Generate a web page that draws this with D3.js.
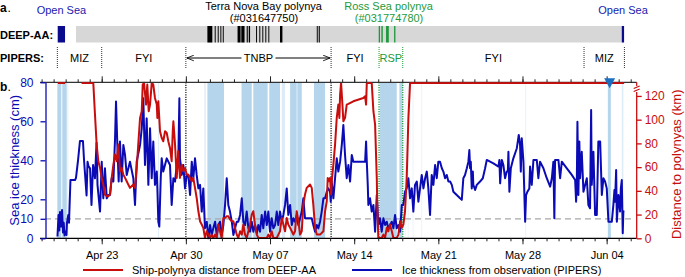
<!DOCTYPE html>
<html lang="en">
<head>
<meta charset="utf-8">
<title>PIPERS ice thickness vs polynya distance</title>
<script src="https://cdn.jsdelivr.net/npm/d3@7"></script>
<style>
body { margin: 0; background: #fff; }
svg { font-family: "Liberation Sans", Arial, Helvetica, sans-serif; }
</style>
</head>
<body>
<script>
// all times are days after 2017-04-18 00:00 UTC

// ice thickness observed from the ship (PIPERS), cm
var iceDay = [1.32,1.41,1.47,1.53,1.61,1.70,1.78,1.84,1.91,1.97,2.07,2.11,2.22,2.28,2.40,2.53,2.78,2.86,3.03,3.19,3.28,3.44,3.53,3.74,3.82,3.90,4.03,4.15,4.28,4.44,4.57,4.65,4.86,5.00,5.13,5.27,5.42,5.55,5.69,5.83,5.97,6.11,6.19,6.30,6.41,6.52,6.66,6.80,6.94,7.08,7.35,7.63,7.77,7.91,8.19,8.33,8.46,8.60,8.74,8.88,9.02,9.16,9.29,9.43,9.58,9.63,9.71,9.79,9.91,9.99,10.12,10.41,10.68,10.82,10.96,11.10,11.24,11.37,11.46,11.51,11.66,11.79,11.93,12.07,12.20,12.35,12.49,12.62,12.76,12.90,13.04,13.18,13.32,13.45,13.59,13.74,13.87,14.01,14.15,14.28,14.43,14.57,14.70,14.84,14.98,15.12,15.26,15.40,15.53,15.67,15.82,15.95,16.09,16.23,16.36,
  16.51,16.65,16.78,16.92,17.06,17.20,17.34,17.48,17.61,17.75,17.90,18.03,18.17,18.31,18.44,18.59,18.73,18.86,19.00,19.14,19.28,19.42,19.56,19.69,19.83,19.98,20.11,20.25,20.39,20.52,20.67,20.81,20.94,21.08,21.22,21.36,21.50,21.64,21.77,21.91,22.05,22.33,22.47,22.60,22.75,22.89,23.02,23.16,23.30,23.44,23.58,23.72,23.85,23.99,24.05,24.13,24.27,24.41,24.55,24.68,24.83,24.97,25.10,25.24,25.38,25.52,25.66,25.80,25.93,26.07,26.91,26.99,27.05,27.13,27.18,27.32,27.46,27.60,27.74,27.88,28.01,28.15,28.29,28.43,28.57,28.71,28.84,28.98,29.13,29.26,29.40,29.54,29.68,29.82,29.96,30.09,30.23,30.37,30.51,30.65,30.79,30.92,31.06,31.21,31.34,31.48,31.62,31.76,31.90,32.04,32.17,32.31,32.45,32.59,32.73,32.87,33.00,
  33.14,33.29,33.42,33.56,33.70,33.84,33.98,34.12,34.25,34.53,34.81,34.95,35.08,35.22,35.37,35.50,35.58,35.64,35.70,35.78,35.87,35.91,36.06,36.20,36.47,36.70,36.89,37.03,37.58,38.00,38.08,38.14,38.28,38.41,38.55,38.69,38.78,38.83,38.91,39.03,39.24,39.53,39.69,39.80,39.86,39.94,40.08,40.22,40.30,40.41,40.57,40.63,40.77,40.91,41.19,41.32,41.46,41.74,42.02,42.30,42.44,42.57,42.65,42.71,42.99,43.13,43.27,43.69,44.10,44.38,44.46,44.52,44.57,44.65,44.73,44.79,44.93,45.07,45.35,45.48,45.62,45.71,45.76,45.90,46.04,46.18,46.31,46.46,46.60,46.73,46.87,47.01,47.15,47.29,47.43,47.56,47.65,47.70,47.79,47.85,47.98,48.12,48.18,48.26,48.34,48.39,48.48];
var iceCm = [0.9,12,4,13.5,6,14.5,3,8,1.5,3.5,1.7,8,12,8,29.9,29.9,29.9,31,40,49.9,49.9,49.9,40,22,39.3,37,35.9,17.1,37.6,30.8,49,27.4,13.7,39.3,20.5,35.9,20.5,22.2,22.2,30.8,29.1,51.3,70.1,47.9,29.1,49.6,29.1,47.9,42.7,32.5,39.3,30.8,17.1,39.3,47.9,56.4,71.8,37.6,61.5,27.4,56.4,30.8,49.6,27.4,34.2,25.6,8.5,6.0,30.8,41.0,34.2,41.0,37.6,17.1,30.8,29.1,37.6,39.3,71.8,41.0,32.5,37.6,25.6,32.5,32.5,22.2,39.3,30.8,41.0,32.5,25.6,27.4,13.7,25.6,5.1,8.5,0,6.8,1.7,5.1,8.5,1.7,6.8,8.5,1.7,6.8,17.1,30.8,17.1,13.7,8.5,1.7,5.1,8.5,8.5,
  12.0,20.5,8.5,6.8,13.7,5.1,3.4,8.5,3.4,6.8,2.6,6.8,3.4,12.0,5.1,13.7,6.8,13.7,3.4,10.3,5.1,6.8,13.7,6.8,13.7,8.5,12.0,17.1,25.6,12.0,17.1,6.8,10.3,8.5,12.0,6.8,10.3,13.7,20.5,10.3,10.3,10.3,10.3,6.8,3.4,6.8,5.1,8.5,13.7,20.5,20.5,23.9,25.6,23.9,18.8,29.1,20.5,30.8,41.0,34.2,39.3,47.9,58.1,42.7,30.8,37.6,29.1,42.7,39.3,39.3,39.3,49.6,39.3,27.4,17.1,20.5,13.7,17.1,3.4,22.2,6.8,10.3,3.4,10.3,6.8,8.5,5.1,6.8,8.5,5.1,12.0,5.1,6.8,3.4,17.1,17.1,23.9,25.6,30.8,20.5,25.6,13.7,27.4,29.1,18.8,25.6,32.5,25.6,30.8,34.2,25.6,12.0,32.5,27.4,37.6,30.8,39.3,
  39.3,35.9,34.2,30.8,32.5,29.1,29.1,27.4,23.9,22.2,20.5,19.7,30.8,32.5,35.9,39.3,45.3,35.9,39.3,25.6,34.2,27.4,24.8,27.4,29.1,30.8,35.9,40.2,38.4,36.8,40.2,28.2,40.2,37.6,30.8,34.2,34.2,44.4,23.9,35.9,41.0,46.2,53.0,47.9,34.2,51.3,39.3,8.5,22.2,23.9,25.6,36.8,27.4,40.2,40.2,30.8,39.3,35.9,30.8,26.5,30.8,39.3,10.3,40.2,40.2,30.8,39.3,35.9,32.5,29.9,18.8,29.1,59.8,22.2,49.6,30.8,44.4,23.9,30.8,17.1,15.4,65.8,27.4,44.4,12.0,12.0,49.6,49.6,22.2,30.8,29.1,25.6,8.5,8.5,8.5,17.1,24.8,18.8,35.0,8.5,22.2,13.7,25.6,29.9,2.6,13.7,13.7];

// ship to polynya distance from DEEP-AA, km (131 = off the top of the scale, null = no data)
var distDay = [1.36,1.95,2.5,3.34,4.30,4.44,4.58,4.72,4.86,5.00,5.13,5.27,5.42,5.55,5.69,5.83,5.97,6.11,6.25,6.38,6.52,6.66,6.80,6.94,7.08,7.21,7.35,7.63,7.77,7.91,8.04,8.19,8.33,8.41,8.52,8.69,8.79,8.91,9.02,9.16,9.29,9.43,9.58,9.63,9.71,9.85,9.99,10.12,10.27,10.41,10.54,10.68,10.82,10.91,10.96,11.10,11.24,11.37,11.51,11.66,11.79,11.93,12.07,12.20,12.35,12.49,12.62,12.76,12.90,13.04,13.18,13.32,13.45,13.59,13.74,13.87,14.01,14.15,14.28,14.43,14.57,14.70,14.84,14.98,15.12,15.26,15.40,15.53,15.67,15.82,15.95,16.09,16.23,16.36,
  16.51,16.65,16.78,16.92,17.06,17.20,17.34,17.48,17.61,17.75,17.90,18.03,18.73,18.86,19.00,19.14,19.28,19.56,19.69,19.83,19.98,20.11,20.25,20.39,20.52,20.67,20.81,20.94,21.08,21.22,21.36,21.50,21.64,21.77,21.91,22.05,22.19,22.33,22.47,22.60,22.75,22.89,23.16,23.44,23.58,23.72,23.80,23.88,23.99,24.08,24.16,24.27,24.41,24.55,24.68,24.77,24.83,24.91,24.99,25.10,25.24,25.38,25.52,25.93,26.76,26.91,26.99,27.05,27.46,27.60,27.74,27.88,27.93,28.01,28.29,28.43,28.57,28.71,28.84,28.98,29.13,29.26,29.54,29.68,29.82,29.96,30.09,30.23,30.37,30.51,30.65,48.45];
var distKm = [131,131,null,131,131,104.3,79.0,64.9,59.3,50.9,45.3,36.9,35.5,35.5,36.9,50.9,62.1,70.6,64.9,79.0,56.5,59.3,53.7,50.9,48.1,45.3,42.5,45.3,42.5,59.3,79.0,101.5,107.1,129.6,131,112.7,129.6,107.1,112.7,131,129.6,118.3,112.7,101.5,115.5,90.2,84.6,81.8,90.2,88.8,81.8,76.2,65.0,90.2,98.7,79.0,50.9,73.4,50.9,62.1,56.5,59.3,53.7,53.7,50.9,48.1,50.9,42.5,34.0,22.8,14.4,11.6,8.8,0.3,5.9,3.1,0.3,3.1,0.3,3.1,0.3,11.6,5.9,0.3,17.2,17.2,18.6,18.6,16.0,14.4,14.4,8.8,3.1,0.3,
  5.9,3.1,11.6,3.1,0.3,5.9,11.6,20.0,22.8,11.6,3.1,0.3,0.3,3.1,0.3,5.9,0.3,0.3,3.1,5.9,17.2,11.6,5.9,17.2,11.6,8.8,5.9,3.1,5.9,22.8,14.4,3.1,5.9,28.4,36.9,42.5,43.9,45.3,42.5,28.4,8.8,3.1,3.1,5.9,22.8,31.2,50.9,48.1,50.9,36.9,50.9,62.1,79.0,101.5,112.7,101.5,121.2,131,118.3,98.7,101.5,112.7,113.3,115.5,118.3,119.7,112.7,131,131,107.1,95.9,50.9,22.8,0.3,0.3,3.1,0.3,8.8,5.9,11.6,5.9,0.3,0.3,3.1,14.4,8.8,11.6,22.8,50.9,101.5,131,131];

// light blue bands: polynya seen by DEEP-AA near the ship
var bandDays = [[1.31,1.64],[1.72,2.09],[13.79,15.17],[16.63,17.48],[17.61,18.80],[18.94,19.83],[20.67,21.22],[21.27,21.64],[22.66,23.58],[28.15,29.54],[29.76,30.01],[47.10,47.35]];
var faintDays = [[2.15,2.22],[9.68,9.75],[13.54,13.65],[19.98,20.25],[30.21,30.26],[30.46,30.51],[30.87,30.92],[31.60,31.65],[40.25,40.30],[48.26,48.39]];
var markerDay = 47.25;

// DEEP-AA strip (panel a)
var openSeaDays = [[1.34,1.95],[48.26,48.45]];
var deepGrayDays = [2.86,48.30];
var tnbDays = [[13.79,14.20],[14.40,14.48],[14.65,14.73],[14.87,14.95],[15.07,15.15],[16.30,16.55],[16.61,16.88],[17.06,17.15],[17.23,17.34],[17.84,17.92],[18.11,18.19],[18.36,18.44],[18.61,18.69],[18.86,18.94],[19.83,20.03],[22.89,22.97],[23.05,23.14]];
var rspDays = [[28.04,28.15],[28.26,28.38],[28.65,28.88],[29.32,29.43]];

// PIPERS ice regimes (panel a)
var pipersBounds = [1.31,5.0,12.0,24.08,28.07,30.04,45.12,48.48];
var pipersLabels = ["MIZ","FYI","TNBP","FYI","RSP","FYI","MIZ"];

var iceTicks = [0,10,20,40,60,80];
var distTicks = [0,20,40,60,80,100,120];

var blue = "#0b0bb5", red = "#c80d0d", green = "#1e9a3c", bandCol = "#b5d5ec", faintCol = "#dcebf7";
var W = 685, H = 277;
var pTop = 82.3, pBot = 238.3, pLeft = 41.6, pRight = 636.7;

var t0 = Date.UTC(2017, 3, 18);
function day(d) { return new Date(t0 + d * 864e5); }

var x = d3.scaleUtc().domain([day(0), day(49.5)]).range([pLeft, pRight]);
var yIce = d3.scaleLinear().domain([0, 80]).range([pBot, pTop]);
var yDist = d3.scaleLinear().domain([0, 131.5]).range([pBot, pTop]).clamp(true);

var svg = d3.select("body").append("svg").attr("width", W).attr("height", H);

function spans(sel, cls, data, y, h, fill) {
  sel.selectAll("rect." + cls).data(data).enter().append("rect").attr("class", cls)
    .attr("x", function(d){ return x(day(d[0])); }).attr("y", y)
    .attr("width", function(d){ return x(day(d[1])) - x(day(d[0])); }).attr("height", h).attr("fill", fill);
}

// ---------- panel a ----------
svg.append("text").attr("x", 0).attr("y", 12).attr("font-size", 12).attr("font-weight", "bold").text("a");
svg.append("text").attr("x", 7.5).attr("y", 12).attr("font-size", 12).text(".");

svg.append("text").attr("x", x(day(1.65))).attr("y", 14).attr("text-anchor", "middle")
  .attr("font-size", 11).attr("fill", "#1a1ab0").text("Open Sea");
svg.append("text").attr("x", x(day(48.36))).attr("y", 14).attr("text-anchor", "middle")
  .attr("font-size", 11).attr("fill", "#1a1ab0").text("Open Sea");
svg.append("text").attr("x", x(day(18.46))).attr("y", 9.5).attr("text-anchor", "middle")
  .attr("font-size", 11).text("Terra Nova Bay polynya");
svg.append("text").attr("x", x(day(18.5))).attr("y", 22).attr("text-anchor", "middle")
  .attr("font-size", 11).text("(#031647750)");
svg.append("text").attr("x", x(day(28.86))).attr("y", 9.5).attr("text-anchor", "middle")
  .attr("font-size", 11).attr("fill", green).text("Ross Sea polynya");
svg.append("text").attr("x", x(day(28.9))).attr("y", 22).attr("text-anchor", "middle")
  .attr("font-size", 11).attr("fill", green).text("(#031774780)");

svg.append("text").attr("x", 0).attr("y", 38.5).attr("font-size", 11).attr("font-weight", "bold").text("DEEP-AA:");
svg.append("text").attr("x", 0).attr("y", 62).attr("font-size", 11).attr("font-weight", "bold").text("PIPERS:");

var stripY = 26, stripH = 16.5;
spans(svg, "gray", [deepGrayDays], stripY, stripH, "#d7d7d7");
spans(svg, "os", openSeaDays, stripY, stripH, "#0a0a8c");
spans(svg, "tnb", tnbDays, stripY, stripH, "#000");
spans(svg, "rsp", rspDays, stripY, stripH, green);

// regime boundaries
pipersBounds.forEach(function(b, i){
  var g = (i == 4 || i == 5);
  svg.append("line").attr("x1", x(day(b))).attr("x2", x(day(b))).attr("y1", 47).attr("y2", 68)
    .attr("stroke", g ? green : "#333").attr("stroke-width", 1).attr("stroke-dasharray", "1,1");
});

// TNBP arrow
svg.append("defs").append("marker").attr("id", "ah").attr("viewBox", "0 0 10 10")
  .attr("refX", 10).attr("refY", 5).attr("markerWidth", 9).attr("markerHeight", 7)
  .attr("orient", "auto-start-reverse")
  .append("path").attr("d", "M0,1 L10,5 L0,9").attr("fill", "none").attr("stroke", "#000").attr("stroke-width", 1.2);
var ax1 = x(day(pipersBounds[2])) + 1, ax2 = x(day(pipersBounds[3])) - 1;
svg.append("line").attr("x1", ax1).attr("x2", ax2).attr("y1", 58).attr("y2", 58)
  .attr("stroke", "#000").attr("stroke-width", 1)
  .attr("marker-start", "url(#ah)").attr("marker-end", "url(#ah)");

pipersLabels.forEach(function(l, i){
  var mid = x(day((pipersBounds[i] + pipersBounds[i+1]) / 2));
  if (l == "TNBP")
    svg.append("rect").attr("x", mid - 17).attr("y", 52).attr("width", 34).attr("height", 12).attr("fill", "#fff");
  svg.append("text").attr("x", mid).attr("y", 62).attr("text-anchor", "middle")
    .attr("font-size", 11).attr("fill", l == "RSP" ? green : "#000")
    .text(l);
});

// ---------- panel b ----------
svg.append("text").attr("x", 0).attr("y", 91).attr("font-size", 12).attr("font-weight", "bold").text("b");
svg.append("text").attr("x", 7.5).attr("y", 91).attr("font-size", 12).text(".");

var plot = svg.append("g");
spans(plot, "faint", faintDays, pTop, pBot - pTop, faintCol);
spans(plot, "band", bandDays, pTop, pBot - pTop, bandCol);

plot.append("line").attr("x1", 45).attr("x2", pRight - 4).attr("y1", yIce(10)).attr("y2", yIce(10))
  .attr("stroke", "#a8a8a8").attr("stroke-width", 1.3).attr("stroke-dasharray", "6,4");

[[12.0, "#222"], [24.08, "#222"], [28.07, green], [30.04, green]].forEach(function(v){
  plot.append("line").attr("x1", x(day(v[0]))).attr("x2", x(day(v[0]))).attr("y1", pTop).attr("y2", pBot)
    .attr("stroke", v[1]).attr("stroke-width", 1.3).attr("stroke-dasharray", "1.2,1.2");
});

var ice = iceDay.map(function(d, i){ return [d, iceCm[i]]; });
var dist = distDay.map(function(d, i){ return [d, distKm[i]]; });

plot.append("path").datum(ice)
  .attr("d", d3.line().x(function(d){ return x(day(d[0])); }).y(function(d){ return yIce(d[1]); }))
  .attr("fill", "none").attr("stroke", blue).attr("stroke-width", 2).attr("stroke-linejoin", "round");

plot.append("path").datum(dist)
  .attr("d", d3.line().defined(function(d){ return d[1] != null; })
    .x(function(d){ return x(day(d[0])); }).y(function(d){ return yDist(d[1]); }))
  .attr("fill", "none").attr("stroke", red).attr("stroke-width", 2).attr("stroke-linejoin", "round");

// axes
var fmt = d3.utcFormat("%b %d");
var weeks = d3.utcSunday.range(day(5), day(49.5));

var bMinor = svg.append("g").attr("transform", "translate(0," + pBot + ")")
  .call(d3.axisBottom(x).ticks(d3.utcDay.every(1)).tickSize(3).tickSizeOuter(0).tickFormat(""));
bMinor.select(".domain").attr("d", "M40,0H" + pRight).attr("stroke-width", 1.3);
var bMajor = svg.append("g").attr("transform", "translate(0," + pBot + ")")
  .call(d3.axisBottom(x).tickValues(weeks).tickSize(6).tickPadding(7).tickFormat(fmt));
bMajor.select(".domain").remove();
bMajor.selectAll("text").attr("font-size", 11).attr("font-family", null);

var tMinor = svg.append("g").attr("transform", "translate(0," + pTop + ")")
  .call(d3.axisTop(x).ticks(d3.utcDay.every(1)).tickSize(3).tickSizeOuter(0).tickFormat(""));
tMinor.select(".domain").attr("d", "M40,0H" + pRight).attr("stroke", "#333").attr("stroke-width", 1.3);
var tMajor = svg.append("g").attr("transform", "translate(0," + pTop + ")")
  .call(d3.axisTop(x).tickValues(weeks).tickSize(6).tickFormat(""));
tMajor.select(".domain").remove();
svg.selectAll(".tick line").attr("stroke", "#222");

// off-scale distance runs along the top frame: redraw it over the frame
svg.append("path").datum(dist)
  .attr("d", d3.line().defined(function(d){ return d[1] != null && d[1] >= 131; })
    .x(function(d){ return x(day(d[0])); }).y(function(d){ return yDist(d[1]); }))
  .attr("fill", "none").attr("stroke", red).attr("stroke-width", 2).attr("opacity", 0.85);

var lAx = svg.append("g").attr("transform", "translate(45.5,0)")
  .call(d3.axisLeft(yIce).tickValues(iceTicks).tickSize(5).tickPadding(7).tickSizeOuter(0));
lAx.selectAll("path,line").attr("stroke", blue).attr("stroke-width", 1.3);
lAx.selectAll("text").attr("fill", blue).attr("font-size", 12).attr("font-family", null);

var rAx = svg.append("g").attr("transform", "translate(" + pRight + ",0)")
  .call(d3.axisRight(yDist).tickValues(distTicks).tickSize(5).tickPadding(3).tickSizeOuter(0));
rAx.select(".domain").attr("d", "M0,92V" + pBot);
rAx.selectAll("path,line").attr("stroke", red).attr("stroke-width", 1.3);
rAx.selectAll("text").attr("fill", red).attr("font-size", 12).attr("font-family", null);
// axis break
svg.append("path").attr("d", "M" + (pRight - 3) + ",88.5l6,-2.5M" + (pRight - 3) + ",91.5l6,-2.5M" + pRight + "," + pTop + "V86")
  .attr("stroke", red).attr("stroke-width", 1.2).attr("fill", "none");

// survey marker
svg.append("path").attr("transform", "translate(" + x(day(markerDay)) + "," + (pTop + 1) + ")")
  .attr("d", "M-5.5,-5 L5.5,-5 L0,5 Z").attr("fill", "#1a6fc0");

// axis titles
svg.append("text").attr("transform", "translate(19," + ((pTop + pBot) / 2) + ") rotate(-90)")
  .attr("text-anchor", "middle").attr("font-size", 13).attr("fill", blue).text("Sea ice thickness (cm)");
svg.append("text").attr("transform", "translate(681," + ((pTop + pBot) / 2 + 4) + ") rotate(-90)")
  .attr("text-anchor", "middle").attr("font-size", 13).attr("fill", red).text("Distance to polynyas (km)");

// legend
var lg = svg.append("g").attr("transform", "translate(0,270)");
lg.append("line").attr("x1", 83).attr("x2", 123).attr("stroke", red).attr("stroke-width", 2.2);
lg.append("text").attr("x", 132).attr("y", 4).attr("font-size", 11).text("Ship-polynya distance from DEEP-AA");
lg.append("line").attr("x1", 352).attr("x2", 392).attr("stroke", blue).attr("stroke-width", 2.2);
lg.append("text").attr("x", 402).attr("y", 4).attr("font-size", 11).text("Ice thickness from observation (PIPERS)");
</script>
</body>
</html>
